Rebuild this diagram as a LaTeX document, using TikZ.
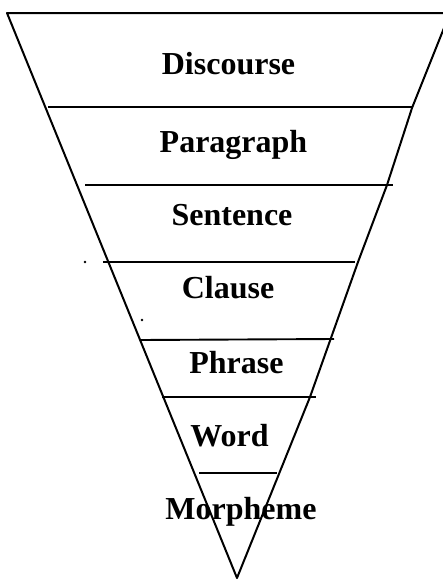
\documentclass[tikz,border=0pt]{standalone}
\usepackage{fontspec}
\setmainfont{Liberation Serif}
\begin{document}
\begin{tikzpicture}[x=1pt,y=-1pt,
  lbl/.style={font=\fontsize{32}{32}\selectfont\bfseries, anchor=base, inner sep=0pt},
  edge/.style={line width=2pt, line join=round},
  sep/.style={line width=1.9pt},
  speck/.style={fill=black}]
\useasboundingbox (0,0) rectangle (443,584);
\begin{scope}
\clip (0,0) rectangle (443,584);
\draw[edge] (460,13) -- (7,13) -- (237,578) -- (310,397) -- (358,262) -- (387,185) -- (412,108) -- (450,13);
\end{scope}
\draw[sep] (48,107) -- (412,107);
\draw[sep] (85,185) -- (393,185);
\draw[sep] (103,262) -- (355,262);
\draw[sep] (140,340) -- (334,339);
\draw[sep] (162,397) -- (316,397);
\draw[sep] (199,473) -- (277,473);
\fill[speck] (85,262) circle (1.4);
\fill[speck] (142,320) circle (1.4);
\node[lbl] (discourse) at (228.5,74) {Discourse};
\node[lbl] (paragraph) at (233.5,152) {Paragraph};
\node[lbl] (sentence) at (232,225) {Sentence};
\node[lbl] (clause) at (228,298) {Clause};
\node[lbl] (phrase) at (236.5,373) {Phrase};
\node[lbl] (word) at (229.5,446) {Word};
\node[lbl] (morpheme) at (241,519) {Morpheme};
\end{tikzpicture}
\end{document}
